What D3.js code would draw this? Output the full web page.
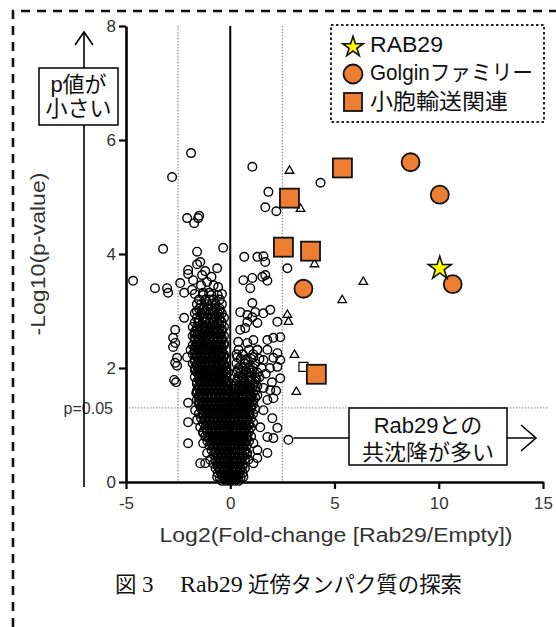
<!DOCTYPE html>
<html><head><meta charset="utf-8">
<script src="https://cdn.jsdelivr.net/npm/d3@7"></script>
<style>body{margin:0;background:#fff}svg{display:block}</style>
</head><body><svg id="c" width="556" height="627"></svg>
<script>
// ---------- DATA ----------
const xTicks = [-5, 0, 5, 10, 15];
const yTicks = [0, 2, 4, 6, 8];
const xLabel = "Log2(Fold-change [Rab29/Empty])";
const yLabel = "-Log10(p-value)";
const fcCut = [-2.5, 2.5];
const pCut = 1.3;
const pCutLabel = "p=0.05";
const legendLabels = ["RAB29", "Golginファミリー", "小胞輸送関連"];
const upNote = ["p値が", "小さい"];
const rightNote = ["Rab29との", "共沈降が多い"];
const caption = ["図", "3", "Rab29", "近傍タンパク質の探索"];

const rab29 = [[10.05, 3.75]];
const golgin = [[8.65, 5.61], [10.05, 5.04], [3.51, 3.39], [10.67, 3.47]];
const vesicle = [[2.84, 4.98], [5.38, 5.51], [2.55, 4.12], [3.85, 4.05], [4.13, 1.89]];
const triangles = [[2.84, 5.46], [3.37, 4.79], [4.04, 3.82], [6.38, 3.51], [5.37, 3.19],
  [2.74, 2.93], [2.79, 2.81], [3.08, 2.23], [3.17, 1.58]];
const openSquares = [[3.51, 2.02]];

const sparse = [
 [-1.88,5.77],[-2.79,5.35],[1.06,5.53],[1.83,5.09],[1.68,4.82],[2.21,4.75],[4.33,5.25],
 [-2.07,4.63],[-1.73,4.54],[-1.54,4.63],[-1.49,4.67],[-3.22,4.09],[-1.59,4.04],[-0.34,4.11],
 [0.67,3.95],[1.30,3.95],[1.59,3.96],[1.68,3.86],[2.74,3.75],
 [-4.66,3.53],[-3.61,3.40],[-3.03,3.40],[-2.98,3.32],[-2.40,3.49],[-2.02,3.72],[-2.02,3.65],
 [-1.59,3.82],[-1.44,3.86],[-1.78,3.54],[-1.35,3.63],[-1.11,3.51],[-0.63,3.75],[-0.58,3.42],
 [-2.21,3.32],[-1.83,3.37],[-1.30,3.32],[-1.01,3.32],[-1.4,3.45],[-0.9,3.6],[-1.2,3.7],[-0.8,3.45],
 [-1.7,3.3],[-0.4,3.3],
 [0.63,3.54],[1.06,3.58],[0.96,3.40],[1.54,3.60],[1.68,3.63],[1.78,3.53],
 [1.06,3.14],[0.48,2.98],[0.82,2.93],[1.06,2.89],[1.20,2.98],[1.59,2.96],[1.92,3.02],[1.30,2.79],
 [0.82,2.81],[0.48,2.67],[0.72,2.70],[2.26,2.81],
 [0.38,2.46],[0.82,2.44],[1.11,2.49],[1.78,2.49],[2.07,2.53],[2.40,2.54],[1.30,2.32],[1.78,2.32],
 [2.26,2.26],[0.34,2.19],[0.72,2.14],[1.11,2.19],[1.59,2.14],[2.07,2.18],[2.40,2.14],
 [-2.64,2.67],[-2.74,2.53],[-2.64,2.44],[-2.74,2.37],[-2.07,2.19],[-2.64,2.09],[-2.21,2.88],
 [-2.55,2.18],[-2.60,1.75],[-1.68,1.96],[-1.44,1.91],[-2.55,2.04],[-2.69,1.79],[-2.02,1.05],
 [-2.02,0.68],[-1.44,0.33],[-1.20,0.33],[-1.63,1.56],
 [2.79,0.74],[2.26,0.95],[2.07,0.77],[1.78,0.51],[1.30,0.42],[2.07,1.47],[1.78,1.44],[2.26,2.02],
 [2.40,1.82],[1.92,1.61],[1.59,1.26],[2.02,1.12],[1.44,0.96],[1.78,0.79],[1.11,0.68],[0.82,0.51],
 [1.30,0.56],[1.7,1.9],[2.0,1.75],[1.6,1.65],[2.2,1.6],[1.9,2.0],
 [-2.02,1.39],[-1.68,1.26],[-1.59,1.09],[-1.44,0.96],[-1.30,0.86],[-1.30,0.68],[-1.11,0.51],
 [-0.96,0.39],[-0.63,0.09],[0.63,0.09],[0.87,0.39],[1.11,0.33]
];

// dense core, listed row by row: [-log10 p, [log2 FC values]]
const leftRows = [
 [3.28,[-1.3,-0.9,-0.6]],
 [3.20,[-1.5,-1.2,-1.0,-0.8,-0.5]],
 [3.12,[-1.6,-1.4,-1.1,-0.9,-0.7,-0.4]],
 [3.04,[-1.5,-1.3,-1.1,-0.9,-0.7,-0.5]],
 [3.00,[-1.6,-1.2,-0.8,-0.5]],
 [2.96,[-1.7,-1.4,-1.2,-1.0,-0.8,-0.6,-0.4]],
 [2.88,[-1.6,-1.3,-1.1,-0.9,-0.7,-0.5,-0.3]],
 [2.84,[-1.5,-1.2,-0.8,-0.5]],
 [2.80,[-1.7,-1.5,-1.2,-1.0,-0.8,-0.6,-0.4]],
 [2.72,[-1.8,-1.6,-1.3,-1.1,-0.9,-0.7,-0.5,-0.3]],
 [2.68,[-1.6,-1.4,-1.2,-1.0,-0.8,-0.6,-0.4]],
 [2.64,[-1.7,-1.5,-1.2,-1.0,-0.8,-0.6,-0.4]],
 [2.60,[-1.7,-1.3,-1.0,-0.7,-0.5]],
 [2.56,[-1.8,-1.6,-1.4,-1.1,-0.9,-0.7,-0.5,-0.3]],
 [2.52,[-1.7,-1.5,-1.2,-1.0,-0.8,-0.6,-0.4]],
 [2.48,[-1.7,-1.5,-1.3,-1.0,-0.8,-0.6,-0.4]],
 [2.44,[-1.6,-1.4,-1.1,-0.9,-0.7,-0.5,-0.3]],
 [2.40,[-1.8,-1.6,-1.4,-1.2,-0.9,-0.7,-0.5,-0.3]],
 [2.36,[-1.7,-1.5,-1.3,-1.0,-0.8,-0.6,-0.4]],
 [2.32,[-1.9,-1.7,-1.5,-1.3,-1.1,-0.8,-0.6,-0.4]],
 [2.28,[-1.7,-1.5,-1.3,-1.1,-0.9,-0.6,-0.4]],
 [2.24,[-1.8,-1.6,-1.4,-1.2,-1.0,-0.7,-0.5,-0.3]],
 [2.20,[-1.6,-1.4,-1.2,-1.0,-0.8,-0.5,-0.3]],
 [2.16,[-1.7,-1.5,-1.3,-1.1,-0.9,-0.6,-0.4,-0.2]],
 [2.12,[-1.7,-1.5,-1.3,-1.1,-0.9,-0.7,-0.4]],
 [2.08,[-1.8,-1.6,-1.4,-1.2,-1.0,-0.8,-0.5,-0.3]],
 [2.04,[-1.6,-1.4,-1.2,-1.0,-0.8,-0.6,-0.3]],
 [2.00,[-1.7,-1.5,-1.3,-1.1,-0.9,-0.7,-0.4,-0.2]],
 [1.96,[-1.7,-1.5,-1.3,-1.1,-0.9,-0.7,-0.5,-0.2]],
 [1.92,[-1.6,-1.4,-1.2,-1.0,-0.8,-0.6,-0.3,-0.1]],
 [1.88,[-1.5,-1.3,-1.1,-0.9,-0.7,-0.4,-0.2]],
 [1.84,[-1.7,-1.5,-1.3,-1.1,-0.9,-0.7,-0.5,-0.2]],
 [1.80,[-1.5,-1.3,-1.1,-0.9,-0.7,-0.5,-0.3]],
 [1.76,[-1.6,-1.4,-1.2,-1.0,-0.8,-0.6,-0.4,-0.1]],
 [1.72,[-1.6,-1.4,-1.2,-1.0,-0.8,-0.6,-0.4,-0.2]],
 [1.68,[-1.5,-1.3,-1.1,-0.9,-0.7,-0.5,-0.3,-0.1]],
 [1.64,[-1.5,-1.3,-1.1,-0.9,-0.7,-0.5,-0.3,-0.1]],
 [1.60,[-1.6,-1.4,-1.2,-1.0,-0.8,-0.6,-0.4,-0.2,0.0]],
 [1.56,[-1.6,-1.4,-1.2,-1.0,-0.8,-0.6,-0.4,-0.2]],
 [1.52,[-1.5,-1.3,-1.1,-0.9,-0.7,-0.5,-0.3,-0.1]],
 [1.48,[-1.5,-1.3,-1.1,-0.9,-0.7,-0.5,-0.3,-0.1,0.1]],
 [1.44,[-1.6,-1.4,-1.2,-1.0,-0.8,-0.6,-0.4,-0.2,0.0]],
 [1.40,[-1.5,-1.3,-1.1,-0.9,-0.7,-0.5,-0.3,-0.1,0.1,0.3,0.5,0.7,0.9]]
];
const rightRows = [
 [2.32,[0.4,0.9,1.3]],
 [2.24,[0.3,0.6,1.1]],
 [2.16,[0.5,0.8,1.0,1.4]],
 [2.08,[0.3,0.7,1.2]],
 [2.00,[0.4,0.6,0.9,1.1,1.5]],
 [1.96,[0.35,0.75,1.05]],
 [1.92,[0.3,0.5,0.8,1.0,1.3]],
 [1.84,[0.4,0.6,0.9,1.2,1.4]],
 [1.80,[0.35,0.65,0.95,1.25]],
 [1.76,[0.3,0.5,0.7,1.0,1.2]],
 [1.72,[0.25,0.55,0.85,1.15]],
 [1.68,[0.2,0.4,0.6,0.8,1.1,1.3]],
 [1.64,[0.25,0.45,0.65,0.95]],
 [1.60,[0.3,0.5,0.7,0.9,1.2]],
 [1.56,[0.3,0.5,0.7,0.9,1.1]],
 [1.52,[0.2,0.4,0.6,0.8,1.0,1.3]],
 [1.48,[0.2,0.4,0.6,0.8,1.0,1.2]],
 [1.44,[0.3,0.5,0.7,0.9,1.1]]
];
const baseRows = [
 [1.36,[-1.5,-1.3,-1.1,-0.9,-0.7,-0.5,-0.3,-0.1,0.1,0.3,0.5,0.7,0.9,1.1]],
 [1.32,[-1.4,-1.2,-1.0,-0.8,-0.6,-0.4,-0.2,0.0,0.2,0.4,0.6,0.8,1.0]],
 [1.28,[-1.4,-1.2,-1.0,-0.8,-0.6,-0.4,-0.2,0.0,0.2,0.4,0.6,0.8,1.0,1.2]],
 [1.24,[-1.3,-1.1,-0.9,-0.7,-0.5,-0.3,-0.1,0.1,0.3,0.5,0.7,0.9]],
 [1.20,[-1.5,-1.3,-1.1,-0.9,-0.7,-0.5,-0.3,-0.1,0.1,0.3,0.5,0.7,0.9,1.1]],
 [1.16,[-1.3,-1.1,-0.9,-0.7,-0.5,-0.3,-0.1,0.1,0.3,0.5,0.7,0.9]],
 [1.12,[-1.4,-1.2,-1.0,-0.8,-0.6,-0.4,-0.2,0.0,0.2,0.4,0.6,0.8,1.0]],
 [1.08,[-1.2,-1.0,-0.8,-0.6,-0.4,-0.2,0.0,0.2,0.4,0.6,0.8]],
 [1.04,[-1.3,-1.1,-0.9,-0.7,-0.5,-0.3,-0.1,0.1,0.3,0.5,0.7,0.9,1.1]],
 [1.00,[-1.1,-0.9,-0.7,-0.5,-0.3,-0.1,0.1,0.3,0.5,0.7,0.9]],
 [0.96,[-1.2,-1.0,-0.8,-0.6,-0.4,-0.2,0.0,0.2,0.4,0.6,0.8,1.0]],
 [0.92,[-1.1,-0.9,-0.7,-0.5,-0.3,-0.1,0.1,0.3,0.5,0.7]],
 [0.88,[-1.3,-1.1,-0.9,-0.7,-0.5,-0.3,-0.1,0.1,0.3,0.5,0.7,0.9]],
 [0.84,[-1.0,-0.8,-0.6,-0.4,-0.2,0.0,0.2,0.4,0.6,0.8]],
 [0.80,[-1.2,-1.0,-0.8,-0.6,-0.4,-0.2,0.0,0.2,0.4,0.6,0.8,1.0]],
 [0.76,[-1.0,-0.8,-0.6,-0.4,-0.2,0.0,0.2,0.4,0.6,0.8]],
 [0.72,[-1.1,-0.9,-0.7,-0.5,-0.3,-0.1,0.1,0.3,0.5,0.7,0.9]],
 [0.68,[-0.9,-0.7,-0.5,-0.3,-0.1,0.1,0.3,0.5,0.7]],
 [0.64,[-1.0,-0.8,-0.6,-0.4,-0.2,0.0,0.2,0.4,0.6,0.8]],
 [0.60,[-0.8,-0.6,-0.4,-0.2,0.0,0.2,0.4,0.6]],
 [0.56,[-0.9,-0.7,-0.5,-0.3,-0.1,0.1,0.3,0.5,0.7]],
 [0.52,[-0.7,-0.5,-0.3,-0.1,0.1,0.3,0.5,0.7]],
 [0.48,[-0.8,-0.6,-0.4,-0.2,0.0,0.2,0.4,0.6,0.8]],
 [0.44,[-0.6,-0.4,-0.2,0.0,0.2,0.4,0.6]],
 [0.40,[-0.7,-0.5,-0.3,-0.1,0.1,0.3,0.5,0.7]],
 [0.36,[-0.7,-0.5,-0.3,-0.1,0.1,0.3,0.5]],
 [0.32,[-0.8,-0.6,-0.4,-0.2,0.0,0.2,0.4,0.6]],
 [0.28,[-0.6,-0.4,-0.2,0.0,0.2,0.4,0.6]],
 [0.24,[-0.7,-0.5,-0.3,-0.1,0.1,0.3,0.5,0.7]],
 [0.20,[-0.5,-0.3,-0.1,0.1,0.3,0.5]],
 [0.16,[-0.6,-0.4,-0.2,0.0,0.2,0.4,0.6]],
 [0.12,[-0.4,-0.2,0.0,0.2,0.4]],
 [0.08,[-0.5,-0.3,-0.1,0.1,0.3,0.5]],
 [0.05,[-0.3,-0.1,0.1,0.3]],
 [0.02,[-0.4,-0.2,0.0,0.2,0.4]]
];

// ---------- DRAW ----------
const svg = d3.select("#c");
const SANS = "'Liberation Sans', Arial, 'Noto Sans CJK JP', sans-serif";
const CJK = "'Noto Sans CJK JP', 'Liberation Sans', sans-serif";
const SERIF = "'Liberation Serif', 'Times New Roman', serif";
const ORANGE = "#ED7D31";

const x = d3.scaleLinear().domain([-5, 15]).range([126, 543]);
const y = d3.scaleLinear().domain([0, 8]).range([482, 26]);

// outer dashed frame
svg.append("path").attr("d", "M13,627 L13,11 L556,11")
  .attr("fill", "none").attr("stroke", "#111").attr("stroke-width", 2.6)
  .attr("stroke-dasharray", "9,7");

// dotted thresholds
const grid = svg.append("g").attr("stroke", "#9a9a9a").attr("stroke-width", 1.3)
  .attr("stroke-dasharray", "1.4,1.6");
fcCut.forEach(v => grid.append("line").attr("x1", x(v)).attr("x2", x(v)).attr("y1", y(8)).attr("y2", y(0)));
grid.append("line").attr("x1", x(-5)).attr("x2", 548).attr("y1", y(pCut)).attr("y2", y(pCut));

// zero line
svg.append("line").attr("x1", x(0)).attr("x2", x(0)).attr("y1", y(8)).attr("y2", y(0))
  .attr("stroke", "#000").attr("stroke-width", 2);

// all open circles
const rowsToPts = rows => rows.flatMap(([py, xs]) => xs.map(fx => [fx, py]));
const others = [...rowsToPts(leftRows), ...rowsToPts(rightRows), ...rowsToPts(baseRows), ...sparse];
svg.append("g").selectAll("circle").data(others).join("circle")
  .attr("cx", d => x(d[0])).attr("cy", d => y(d[1])).attr("r", 4.3)
  .attr("fill", "none").attr("stroke", "#000").attr("stroke-width", 1.4);

// triangles
svg.append("g").selectAll("path").data(triangles).join("path")
  .attr("d", d3.symbol(d3.symbolTriangle, 32))
  .attr("transform", d => `translate(${x(d[0])},${y(d[1])})`)
  .attr("fill", "#fff").attr("stroke", "#000").attr("stroke-width", 1.3);
// small open squares
svg.append("g").selectAll("rect").data(openSquares).join("rect")
  .attr("x", d => x(d[0]) - 4.5).attr("y", d => y(d[1]) - 4.5).attr("width", 9).attr("height", 9)
  .attr("fill", "#fff").attr("stroke", "#000").attr("stroke-width", 1.2);

// vesicle transport squares
svg.append("g").selectAll("rect").data(vesicle).join("rect")
  .attr("x", d => x(d[0]) - 9.5).attr("y", d => y(d[1]) - 9.5).attr("width", 19).attr("height", 19)
  .attr("fill", ORANGE).attr("stroke", "#111").attr("stroke-width", 1.8);
// golgin circles
svg.append("g").selectAll("circle").data(golgin).join("circle")
  .attr("cx", d => x(d[0])).attr("cy", d => y(d[1])).attr("r", 9)
  .attr("fill", ORANGE).attr("stroke", "#111").attr("stroke-width", 1.8);
// RAB29 star
svg.append("g").selectAll("path").data(rab29).join("path")
  .attr("d", d3.symbol(d3.symbolStar, 165))
  .attr("transform", d => `translate(${x(d[0])},${y(d[1])})`)
  .attr("fill", "#FFFF00").attr("stroke", "#111").attr("stroke-width", 1.6);

// axes
const yAxis = svg.append("g").attr("transform", `translate(${x(-5)},0)`)
  .call(d3.axisLeft(y).tickValues(yTicks).tickSize(7).tickSizeOuter(0).tickPadding(3).tickFormat(d => String(d)));
const xAxis = svg.append("g").attr("transform", `translate(0,${y(0)})`)
  .call(d3.axisBottom(x).tickValues(xTicks).tickSize(7).tickSizeOuter(0).tickPadding(8).tickFormat(d => String(d)));
[yAxis, xAxis].forEach(a => {
  a.select(".domain").attr("stroke", "#000").attr("stroke-width", 2.6);
  a.selectAll(".tick line").attr("stroke", "#000").attr("stroke-width", 2.2);
  a.selectAll(".tick text").attr("fill", "#333").attr("font-size", 17).attr("font-family", SANS);
});

// axis titles
svg.append("text").attr("x", 336).attr("y", 542).attr("text-anchor", "middle")
  .attr("font-family", SANS).attr("font-size", 20).attr("fill", "#333")
  .attr("textLength", 353).attr("lengthAdjust", "spacingAndGlyphs").text(xLabel);
svg.append("text").attr("transform", "translate(45,254) rotate(-90)").attr("text-anchor", "middle")
  .attr("font-family", SANS).attr("font-size", 20).attr("fill", "#333")
  .attr("textLength", 163).attr("lengthAdjust", "spacingAndGlyphs").text(yLabel);

// p=0.05 label
svg.append("text").attr("x", 113).attr("y", y(pCut) + 6).attr("text-anchor", "end")
  .attr("font-family", SANS).attr("font-size", 16).attr("fill", "#333").text(pCutLabel);

// vertical arrow annotation
const ann = svg.append("g").attr("stroke", "#000").attr("fill", "none").attr("stroke-width", 1.6);
ann.append("line").attr("x1", 84).attr("x2", 84).attr("y1", 487).attr("y2", 32);
ann.append("path").attr("d", "M75,45 L84,32 L93,45");
svg.append("rect").attr("x", 39).attr("y", 68).attr("width", 79).attr("height", 57)
  .attr("fill", "#fff").attr("stroke", "#000").attr("stroke-width", 1.5);
upNote.forEach((t, i) => svg.append("text").attr("x", 78.5).attr("y", 92 + i * 24)
  .attr("text-anchor", "middle").attr("font-family", SANS).attr("font-size", 22).attr("fill", "#111").text(t));

// horizontal arrow annotation
ann.append("line").attr("x1", x(2.79) + 5).attr("x2", 536).attr("y1", 438).attr("y2", 438);
ann.append("path").attr("d", "M521,425 L536,438 L521,451");
svg.append("rect").attr("x", 349).attr("y", 408).attr("width", 158).attr("height", 57)
  .attr("fill", "#fff").attr("stroke", "#000").attr("stroke-width", 1.5);
rightNote.forEach((t, i) => svg.append("text").attr("x", 428).attr("y", 433 + i * 27)
  .attr("text-anchor", "middle").attr("font-family", SANS).attr("font-size", 22).attr("fill", "#111").text(t));

// legend
const lg = svg.append("g");
lg.append("rect").attr("x", 331).attr("y", 25).attr("width", 213).attr("height", 97)
  .attr("fill", "#fff").attr("stroke", "#222").attr("stroke-width", 2).attr("stroke-dasharray", "2.5,2.5");
lg.append("path").attr("d", d3.symbol(d3.symbolStar, 130)).attr("transform", "translate(353,47)")
  .attr("fill", "#FFFF00").attr("stroke", "#111").attr("stroke-width", 1.6);
lg.append("circle").attr("cx", 353).attr("cy", 74).attr("r", 9.5)
  .attr("fill", ORANGE).attr("stroke", "#111").attr("stroke-width", 1.8);
lg.append("rect").attr("x", 344).attr("y", 93).attr("width", 18).attr("height", 18)
  .attr("fill", ORANGE).attr("stroke", "#111").attr("stroke-width", 1.8);
const lgLen = [73, 163, 138];
const lgY = [52, 80, 109];
legendLabels.forEach((t, i) => lg.append("text").attr("x", 370).attr("y", lgY[i])
  .attr("font-family", SANS).attr("font-size", 22).attr("fill", "#111")
  .attr("textLength", lgLen[i]).attr("lengthAdjust", "spacingAndGlyphs").text(t));

// caption
const cap = svg.append("text").attr("y", 592).attr("fill", "#111");
cap.append("tspan").attr("x", 115).attr("font-family", CJK).attr("font-size", 21.5).text(caption[0]);
cap.append("tspan").attr("x", 142).attr("font-family", SERIF).attr("font-size", 23).text(caption[1]);
cap.append("tspan").attr("x", 180).attr("font-family", SERIF).attr("font-size", 24).text(caption[2]);
cap.append("tspan").attr("x", 248).attr("font-family", CJK).attr("font-size", 21.4).text(caption[3]);
</script>
</body></html>
